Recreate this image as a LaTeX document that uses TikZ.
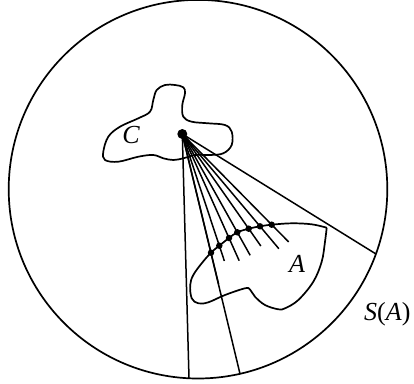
\documentclass[tikz,border=0pt]{standalone}
\usepackage{fontspec}
\setmainfont{Liberation Serif}
\usetikzlibrary{calc}
\begin{document}
\begin{tikzpicture}[x=1pt,y=-1pt,
  ray/.style={line width=1.5pt},
  region/.style={line width=1.7pt, line join=round},
  lab/.style={inner sep=0pt, font=\fontsize{26}{30}\selectfont\itshape},
  smalldot/.style={fill=black, circle, inner sep=0pt, minimum size=6.5pt},
  bigdot/.style={fill=black, circle, inner sep=0pt, minimum size=10pt}]
\useasboundingbox (0,0) rectangle (414,383);
% big circle S(A)
\draw[region] (198,189.2) circle (189.3);
% region C
\draw[region] plot[smooth cycle, tension=0.6] coordinates {
 (175,85) (183.3,87.3) (185,93.3) (182.3,105) (183.3,116.7) (191.7,121.7)
 (208.3,123.3) (225,125) (231.7,131.7) (231.7,145) (223.3,153.3) (210,155)
 (195,155) (183.3,158.3) (173.3,160) (163.3,158.3) (153.3,155) (138.3,156.7)
 (118.3,161.7) (105,160) (103.3,151.7) (108.3,136.7) (120,126.7) (138.3,118.3)
 (150,111.7) (153.3,100) (156.7,90) (165,85)};
% points
\coordinate (O) at (182.3,134);
\coordinate (d1) at (211,252.7);
\coordinate (d2) at (219.3,245.7);
\coordinate (d3) at (229,238);
\coordinate (d4) at (237.3,232.3);
\coordinate (d5) at (248.7,228.7);
\coordinate (d6) at (260,226.3);
\coordinate (d7) at (271.7,224.7);
\coordinate (b1) at (189,378.2);
\coordinate (b2) at (240,373.8);
\coordinate (b3) at (376,254);
% region A
\draw[region] plot[smooth, tension=0.6] coordinates {
 (326.7,227.7) (311.7,224.3) (291.7,223.3) (d7) (d6) (d5) (d4) (d3) (d2) (d1)
 (201.7,263.3) (193.3,275) (190.2,285) (191.7,298.3) (198.3,303.3) (208.3,302.3)
 (225,295) (245,288.3) (250,289.5) (255,296.7) (265,305) (278.3,309.3) (285,308.3)
 (298.3,300) (313.3,281.7) (321.7,261.7) (325,241.7) (326.7,227.7)};
% rays
\draw[ray] (O) -- (b1);
\draw[ray] (O) -- (b2);
\draw[ray] (O) -- (b3);
\draw[ray] (O) -- ($(O)!1.264!(d1)$);
\draw[ray] (O) -- ($(O)!1.137!(d2)$);
\draw[ray] (O) -- ($(O)!1.218!(d3)$);
\draw[ray] (O) -- ($(O)!1.234!(d4)$);
\draw[ray] (O) -- ($(O)!1.183!(d5)$);
\draw[ray] (O) -- ($(O)!1.243!(d6)$);
\draw[ray] (O) -- ($(O)!1.19!(d7)$);
% dots
\node[bigdot] (apex) at (O) {};
\foreach \i in {1,...,7} \node[smalldot] (p\i) at (d\i) {};
% labels
\node[lab, anchor=base] (lc) at (131,143.3) {C};
\node[lab, anchor=base] (la) at (297,272.3) {A};
\node[lab, anchor=base west, font=\fontsize{26}{30}\selectfont] (ls) at (364,320) {\textit{S}(\textit{A})};
\end{tikzpicture}
\end{document}
